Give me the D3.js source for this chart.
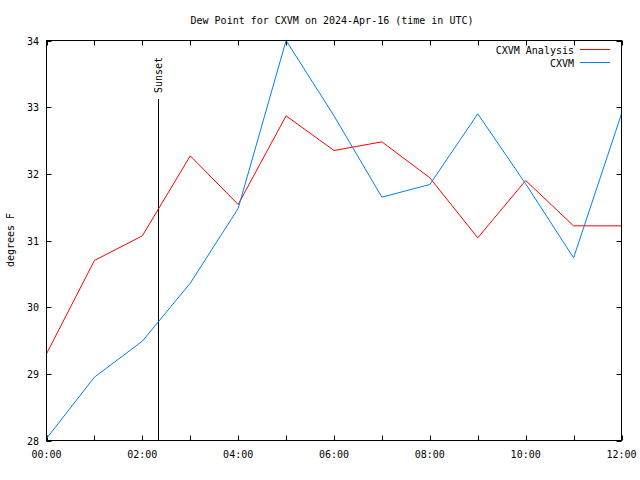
<!DOCTYPE html>
<html><head><meta charset="utf-8">
<script src="https://cdn.jsdelivr.net/npm/d3@7"></script>
<style>body{margin:0;background:#fff}svg{display:block}text{font-family:"DejaVu Sans Mono","Liberation Mono",monospace;font-size:10px;fill:#000}</style>
</head><body><svg id="c" width="640" height="480"></svg>
<script>
const hours = [0,1,2,3,4,5,6,7,8,9,10,11,12];
const analysis = [29.3,30.7,31.07,32.27,31.54,32.87,32.35,32.48,31.94,31.04,31.9,31.22,31.22];
const observed = [28.03,28.95,29.49,30.36,31.48,34.0,32.87,31.65,31.84,32.9,31.85,30.74,32.9];
const seriesNames = ["CXVM Analysis","CXVM"];
const seriesColors = ["#ff0000","#0080f0"];
const yTicks = [28,29,30,31,32,33,34];
const xTickLabels = ["00:00","02:00","04:00","06:00","08:00","10:00","12:00"];
const sunsetHour = 2.32;

const svg = d3.select("#c");
const L=46.5,R=621.5,T=40.5,B=440.5;
const x = d3.scaleLinear().domain([0,12]).range([L,R]);
const y = d3.scaleLinear().domain([28,34]).range([B,T]);

svg.append("text").attr("x",332).attr("y",24).attr("text-anchor","middle").text("Dew Point for CXVM on 2024-Apr-16 (time in UTC)");

const g = svg.append("g").attr("stroke","#000").attr("stroke-width",1);
hours.forEach(h=>{
  const xx=Math.round(x(h))+0.5;
  g.append("line").attr("x1",xx).attr("x2",xx).attr("y1",B).attr("y2",B-5);
  g.append("line").attr("x1",xx).attr("x2",xx).attr("y1",T).attr("y2",T+5);
});
yTicks.forEach(v=>{
  const yy=Math.round(y(v))+0.5;
  g.append("line").attr("x1",L).attr("x2",L+5).attr("y1",yy).attr("y2",yy);
  g.append("line").attr("x1",R).attr("x2",R-5).attr("y1",yy).attr("y2",yy);
});
xTickLabels.forEach((t,i)=>{
  svg.append("text").attr("x",x(i*2)).attr("y",458).attr("text-anchor","middle").text(t);
});
yTicks.forEach(v=>{
  svg.append("text").attr("x",39).attr("y",y(v)+4).attr("text-anchor","end").text(v);
});
svg.append("text").attr("transform","translate(14,240) rotate(-90)").attr("text-anchor","middle").text("degrees F");

svg.append("line").attr("x1",Math.round(x(sunsetHour))+0.5).attr("x2",Math.round(x(sunsetHour))+0.5).attr("y1",99).attr("y2",B).attr("stroke","#000");
svg.append("text").attr("transform",`translate(${x(sunsetHour)+4},93) rotate(-90)`).attr("text-anchor","start").text("Sunset");

const line = d3.line().x((d,i)=>x(hours[i])).y(d=>y(d));
[analysis,observed].forEach((s,k)=>{
  svg.append("path").attr("d",line(s)).attr("fill","none").attr("stroke",seriesColors[k]).attr("stroke-width",1);
});

svg.append("rect").attr("x",L).attr("y",T).attr("width",R-L).attr("height",B-T).attr("fill","none").attr("stroke","#000");

seriesNames.forEach((n,k)=>{
  const yy=54+k*13;
  svg.append("text").attr("x",574).attr("y",yy).attr("text-anchor","end").text(n);
  svg.append("line").attr("x1",580).attr("x2",610).attr("y1",yy-4.5).attr("y2",yy-4.5).attr("stroke",seriesColors[k]);
});
</script></body></html>
